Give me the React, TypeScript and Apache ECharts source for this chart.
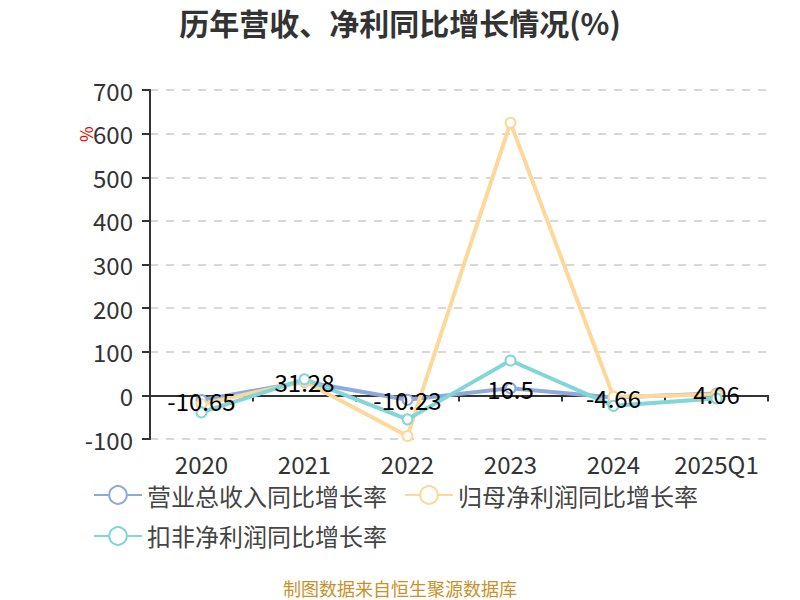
import React, { useEffect, useRef } from "react";
import * as echarts from "echarts";

const categories = ["2020", "2021", "2022", "2023", "2024", "2025Q1"];
const revenueGrowth = [-10.65, 31.28, -10.23, 16.5, -4.66, 4.06];
const netProfitGrowth = [-20, 32, -93, 625, -3, 2];
const deductedProfitGrowth = [-39, 37, -55, 80, -24, -7];
const seriesNames = ["营业总收入同比增长率", "归母净利润同比增长率", "扣非净利润同比增长率"];

export default function App() {
  const ref = useRef<HTMLDivElement>(null);
  useEffect(() => {
    if (!ref.current) return;
    const chart = echarts.init(ref.current, undefined, { renderer: "svg" });
    const font = "'Noto Sans CJK SC', 'Noto Sans', sans-serif";
    chart.setOption({
      animation: false,
      backgroundColor: "#fff",
      title: [
        {
          text: "历年营收、净利同比增长情况(%)",
          left: "center",
          top: 2,
          textStyle: { fontSize: 30, fontWeight: "bold", color: "#333", fontFamily: font },
        },
        {
          text: "制图数据来自恒生聚源数据库",
          left: "center",
          top: 579,
          padding: 0,
          textStyle: { fontSize: 18, fontWeight: "normal", color: "#c8922a", fontFamily: font },
        },
      ],
      graphic: [
        {
          type: "text",
          x: 77,
          y: 142,
          rotation: Math.PI / 2,
          style: { text: "%", fill: "#e00", fontSize: 17, fontFamily: font },
        },
      ],
      legend: {
        left: 88,
        top: 478,
        width: 660,
        itemWidth: 48,
        itemHeight: 22,
        itemGap: 17,
        textStyle: { fontSize: 24, color: "#444", fontFamily: font },
        data: seriesNames,
      },
      grid: { left: 150, right: 32, top: 90, bottom: 161 },
      xAxis: {
        type: "category",
        data: categories,
        axisLine: { onZero: true, lineStyle: { color: "#333", width: 2 } },
        axisTick: { show: true, length: 6, lineStyle: { color: "#333", width: 2 } },
        axisLabel: {
          show: true,
          fontSize: 24,
          color: "#333",
          fontFamily: font,
          margin: 12,
          interval: 0,
        },
        position: "bottom",
      },
      yAxis: {
        type: "value",
        min: -100,
        max: 700,
        interval: 100,
        axisLine: { show: true, lineStyle: { color: "#333", width: 2 } },
        axisTick: { show: true, length: 8, lineStyle: { color: "#333", width: 2 } },
        axisLabel: { fontSize: 24, color: "#333", fontFamily: font, margin: 17 },
        splitLine: { show: true, lineStyle: { color: "#ccc", type: [8, 8], width: 1.5 } },
      },
      series: [
        {
          name: seriesNames[0],
          type: "line",
          data: revenueGrowth,
          color: "#8eaadc",
          lineStyle: { width: 4 },
          symbol: "emptyCircle",
          symbolSize: 10,
          label: {
            show: true,
            position: "inside",
            color: "#000",
            fontSize: 24,
            fontFamily: font,
          },
        },
        {
          name: seriesNames[1],
          type: "line",
          data: netProfitGrowth,
          color: "#fdd89b",
          lineStyle: { width: 4 },
          symbol: "emptyCircle",
          symbolSize: 10,
        },
        {
          name: seriesNames[2],
          type: "line",
          data: deductedProfitGrowth,
          color: "#82d6d8",
          lineStyle: { width: 4 },
          symbol: "emptyCircle",
          symbolSize: 10,
        },
      ],
    });
    return () => chart.dispose();
  }, []);
  return (
    <div
      ref={ref}
      style={{ position: "fixed", left: 0, top: 0, width: 800, height: 600 }}
    />
  );
}
